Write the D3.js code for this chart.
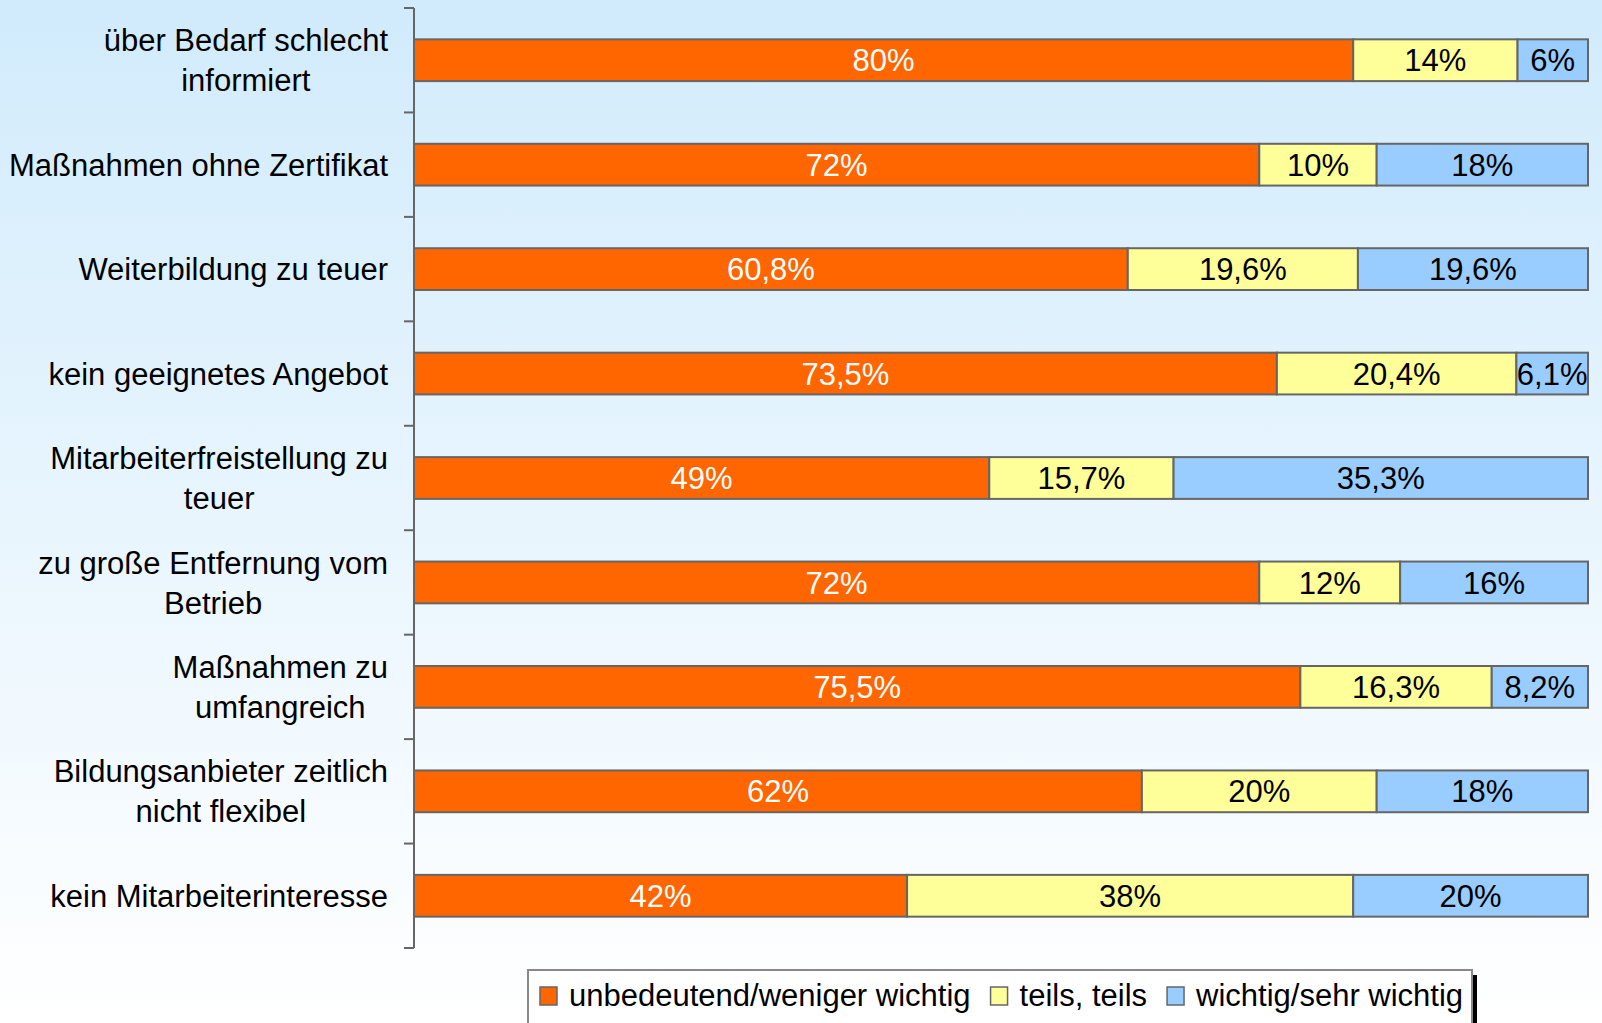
<!DOCTYPE html>
<html>
<head>
<meta charset="utf-8">
<script src="https://cdn.jsdelivr.net/npm/d3@7"></script>
<style>
  body { margin: 0; }
  svg { display: block; }
</style>
</head>
<body>
<svg id="chart"></svg>
<script>
const width = 1602;
const height = 1023;

// Data
const categories = [
  "über Bedarf schlecht\ninformiert",
  "Maßnahmen ohne Zertifikat",
  "Weiterbildung zu teuer",
  "kein geeignetes Angebot",
  "Mitarbeiterfreistellung zu\nteuer",
  "zu große Entfernung vom\nBetrieb",
  "Maßnahmen zu\numfangreich",
  "Bildungsanbieter zeitlich\nnicht flexibel",
  "kein Mitarbeiterinteresse"
];
const seriesNames = ["unbedeutend/weniger wichtig", "teils, teils", "wichtig/sehr wichtig"];
const unbedeutend = [80, 72, 60.8, 73.5, 49, 72, 75.5, 62, 42];
const teils = [14, 10, 19.6, 20.4, 15.7, 12, 16.3, 20, 38];
const wichtig = [6, 18, 19.6, 6.1, 35.3, 16, 8.2, 18, 20];

const colors = ["#ff6600", "#ffff99", "#99ccff"];
const labelColors = ["#ffffff", "#000000", "#000000"];
const font = "'Liberation Sans', Arial, sans-serif";

const svg = d3.select("#chart")
  .attr("width", width)
  .attr("height", height);

// Background gradient
const grad = svg.append("defs").append("linearGradient")
  .attr("id", "bg")
  .attr("x1", 0).attr("y1", 0).attr("x2", 0).attr("y2", 1);
grad.append("stop").attr("offset", "0%").attr("stop-color", "#d1ebfc");
grad.append("stop").attr("offset", "100%").attr("stop-color", "#ffffff");

svg.append("rect")
  .attr("width", width)
  .attr("height", height)
  .attr("fill", "url(#bg)");

const x = d3.scaleLinear().domain([0, 100]).range([414, 1588]);
const y = d3.scaleBand()
  .domain(categories)
  .range([8, 948])
  .paddingInner(0.6)
  .paddingOuter(0.3);

// Stack the series
const keys = ["s0", "s1", "s2"];
const rows = categories.map((c, i) => ({
  cat: c, s0: unbedeutend[i], s1: teils[i], s2: wichtig[i]
}));
const layers = d3.stack().keys(keys)(rows);

const fmt = v => String(v).replace(".", ",") + "%";

layers.forEach((layer, k) => {
  const g = svg.append("g");
  g.selectAll("rect")
    .data(layer)
    .join("rect")
    .attr("x", d => x(d[0]))
    .attr("y", d => y(d.data.cat))
    .attr("width", d => x(d[1]) - x(d[0]))
    .attr("height", y.bandwidth())
    .attr("fill", colors[k])
    .attr("stroke", "#666")
    .attr("stroke-width", 2);

  g.selectAll("text")
    .data(layer)
    .join("text")
    .attr("x", d => (x(d[0]) + x(d[1])) / 2)
    .attr("y", d => y(d.data.cat) + y.bandwidth() / 2)
    .attr("dy", "0.36em")
    .attr("text-anchor", "middle")
    .attr("fill", labelColors[k])
    .attr("font-family", font)
    .attr("font-size", "31px")
    .text(d => fmt(d.data[keys[k]]));
});

// Axis line and ticks between categories
const axis = svg.append("g").attr("stroke", "#666").attr("stroke-width", 2);
const y0 = y.range()[0];
const y1 = y.range()[1];
axis.append("line")
  .attr("x1", x(0)).attr("x2", x(0))
  .attr("y1", y0).attr("y2", y1);
axis.selectAll("line.tick")
  .data(d3.range(categories.length + 1))
  .join("line")
  .attr("class", "tick")
  .attr("x1", x(0) - 10).attr("x2", x(0))
  .attr("y1", i => y0 + i * y.step())
  .attr("y2", i => y0 + i * y.step());

// Category labels (lines centred, block right-aligned)
const labelRight = 388;
categories.forEach(c => {
  const lines = c.split("\n");
  const cy = y(c) + y.bandwidth() / 2;
  const t = svg.append("text")
    .attr("font-family", font)
    .attr("font-size", "31px")
    .attr("fill", "#000")
    .attr("text-anchor", "middle");
  lines.forEach((ln, i) => {
    t.append("tspan")
      .attr("y", cy + (i - (lines.length - 1) / 2) * 40)
      .attr("dy", "0.36em")
      .text(ln);
  });
  let maxW = 0;
  t.selectAll("tspan").each(function () {
    maxW = Math.max(maxW, this.getComputedTextLength());
  });
  t.selectAll("tspan").attr("x", labelRight - maxW / 2);
});

// Legend
const legend = svg.append("g");
legend.append("rect")
  .attr("x", 533).attr("y", 975)
  .attr("width", 944).attr("height", 70)
  .attr("fill", "#000");
legend.append("rect")
  .attr("x", 528).attr("y", 970)
  .attr("width", 944).attr("height", 70)
  .attr("fill", "#fff")
  .attr("stroke", "#888")
  .attr("stroke-width", 2);

let lx = 540;
seriesNames.forEach((name, k) => {
  legend.append("rect")
    .attr("x", lx).attr("y", 987)
    .attr("width", 17).attr("height", 18)
    .attr("fill", colors[k])
    .attr("stroke", "#666")
    .attr("stroke-width", 1.5);
  const t = legend.append("text")
    .attr("x", lx + 29)
    .attr("y", 995)
    .attr("dy", "0.36em")
    .attr("font-family", font)
    .attr("font-size", "31px")
    .attr("fill", "#000")
    .text(name);
  lx = lx + 29 + t.node().getComputedTextLength() + 20;
});
</script>
</body>
</html>
